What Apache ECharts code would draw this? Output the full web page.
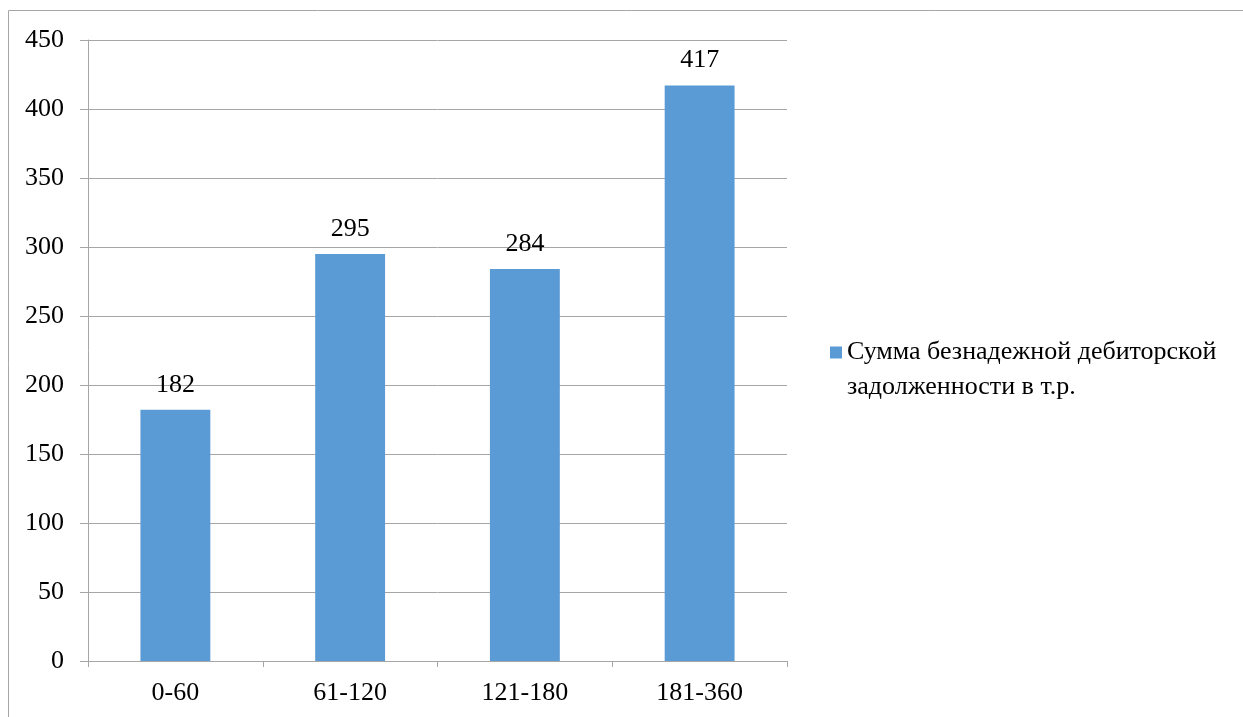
<!DOCTYPE html>
<html>
<head>
<meta charset="utf-8">
<script src="https://cdn.jsdelivr.net/npm/echarts@6/dist/echarts.min.js"></script>
<style>
  html, body { margin: 0; padding: 0; background: #fff; }
  #main { width: 1243px; height: 717px; }
</style>
</head>
<body>
<div id="main"></div>
<script>
var myChart = echarts.init(document.getElementById('main'));

var categories = ['0-60', '61-120', '121-180', '181-360'];
var values = [182, 295, 284, 417];
var seriesName = 'Сумма безнадежной дебиторской\nзадолженности в т.р.';

var font = 'Liberation Serif';
var gray = '#a6a6a6';

var option = {
  animation: false,
  textStyle: { fontFamily: font },
  graphic: [{
    type: 'rect',
    shape: { x: 8.5, y: 10.5, width: 1400, height: 900 },
    style: { fill: 'none', stroke: gray, lineWidth: 1 },
    silent: true
  }],
  grid: { left: 88, top: 40, right: 456, bottom: 56 },
  legend: {
    left: 830,
    top: 300,
    padding: 0,
    itemWidth: 12,
    itemHeight: 12,
    itemGap: 0,
    icon: 'rect',
    formatter: function (name) { return '\n' + name; },
    textStyle: {
      fontFamily: font,
      fontSize: 26,
      color: '#000',
      lineHeight: 35
    }
  },
  xAxis: {
    type: 'category',
    data: categories,
    axisLine: { lineStyle: { color: gray } },
    axisTick: { show: true, length: 6, lineStyle: { color: gray } },
    axisLabel: { color: '#000', fontSize: 26, fontFamily: font, margin: 19 }
  },
  yAxis: {
    type: 'value',
    min: 0,
    max: 450,
    interval: 50,
    axisLine: { show: true, lineStyle: { color: gray } },
    axisTick: { show: true, length: 8, lineStyle: { color: gray } },
    axisLabel: { color: '#000', fontSize: 26, fontFamily: font, margin: 24 },
    splitLine: { lineStyle: { color: gray } }
  },
  series: [{
    name: seriesName,
    type: 'bar',
    data: values,
    barWidth: '40%',
    itemStyle: { color: '#5b9bd5' },
    label: {
      show: true,
      position: 'top',
      distance: 12,
      color: '#000',
      fontSize: 26,
      fontFamily: font
    }
  }]
};
myChart.setOption(option);
</script>
</body>
</html>
